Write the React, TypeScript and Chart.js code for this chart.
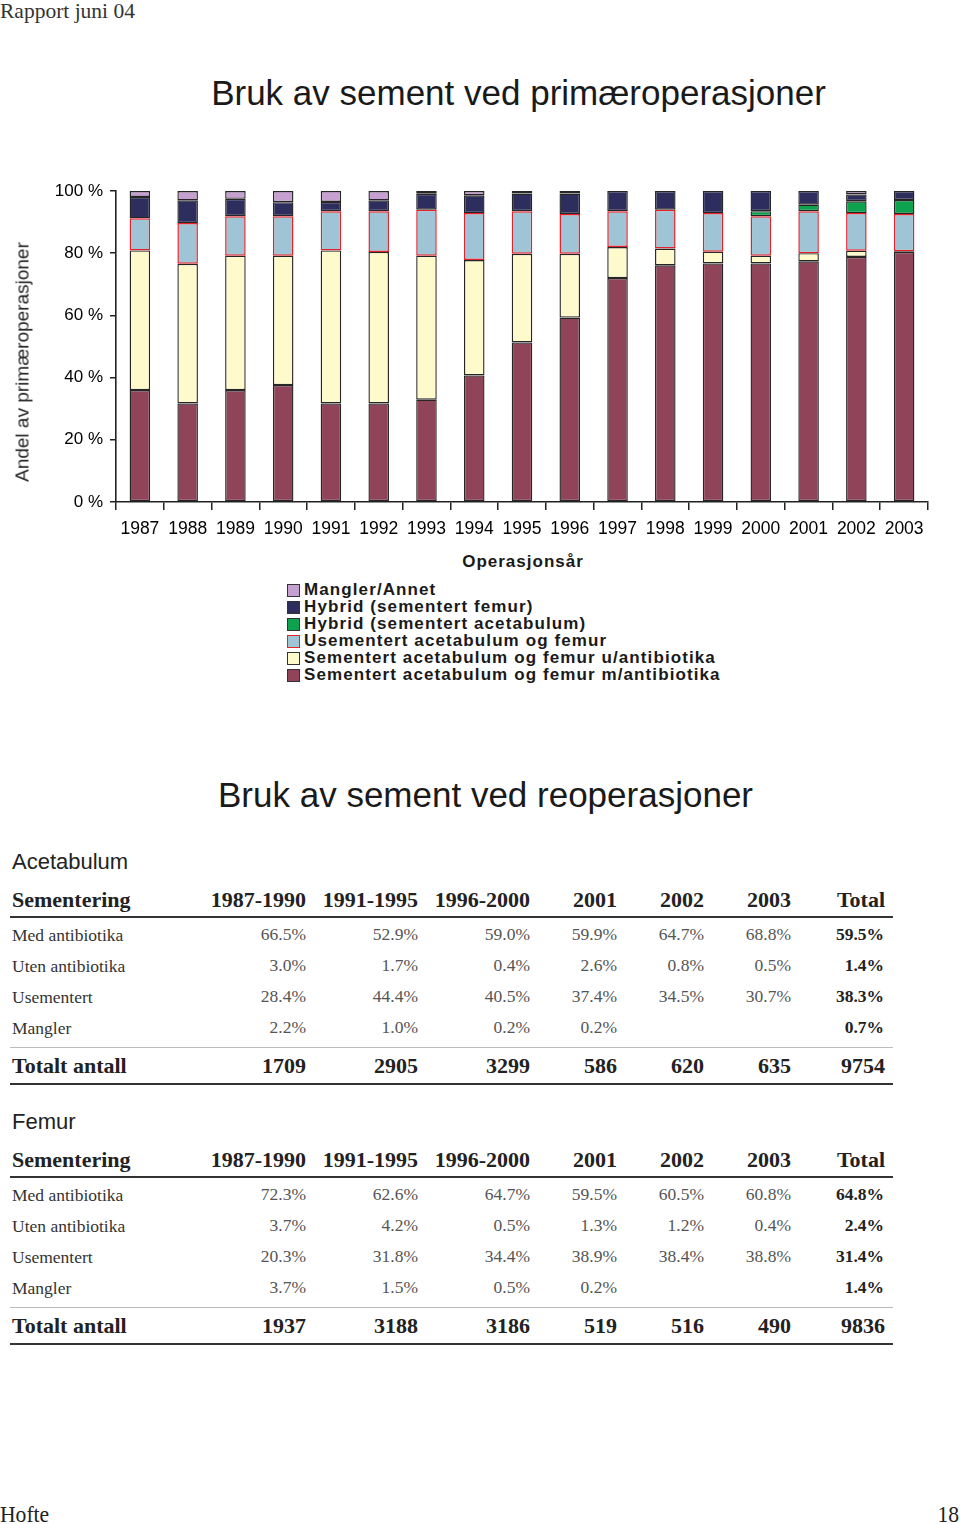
import React, { useEffect, useRef } from 'react';
import { Chart, registerables } from 'chart.js';

Chart.register(...registerables);

// ---------- Chart data ----------
const years = ['1987', '1988', '1989', '1990', '1991', '1992', '1993', '1994', '1995', '1996', '1997', '1998', '1999', '2000', '2001', '2002', '2003'];
const medAntibiotika = [36.0, 31.7, 36.0, 37.6, 31.7, 31.7, 32.9, 40.7, 51.3, 59.3, 72.0, 76.1, 76.7, 76.7, 77.4, 78.8, 80.4];
const utenAntibiotika = [44.9, 44.9, 43.2, 41.6, 49.2, 48.7, 46.3, 37.1, 28.5, 20.5, 10.0, 5.4, 3.8, 2.5, 2.6, 2.0, 0.2];
const usementert = [10.3, 13.1, 12.7, 12.7, 12.6, 13.1, 14.8, 15.1, 13.7, 12.8, 11.5, 12.5, 12.4, 12.7, 13.5, 12.1, 12.0];
const hybridAcetabulum = [0, 0, 0, 0, 0, 0, 0, 0, 0, 0, 0, 0, 0, 1.6, 2.1, 3.8, 4.5];
const hybridFemur = [6.9, 7.3, 5.6, 4.5, 3.0, 3.5, 5.1, 5.7, 5.7, 6.6, 6.5, 6.0, 7.1, 6.5, 4.4, 2.2, 2.9];
const manglerAnnet = [1.9, 3.0, 2.5, 3.6, 3.5, 3.0, 0.9, 1.4, 0.8, 0.8, 0, 0, 0, 0, 0, 1.1, 0];

const seriesNames = [
  'Sementert acetabulum og femur m/antibiotika',
  'Sementert acetabulum og femur u/antibiotika',
  'Usementert acetabulum og femur',
  'Hybrid (sementert acetabulum)',
  'Hybrid (sementert femur)',
  'Mangler/Annet',
];
const seriesColors = ['#8F4459', '#FFFACC', '#9EC4D6', '#0DA24E', '#2D2E5E', '#C7A0D2'];
const seriesBorders = ['#262626', '#262626', '#E3222B', '#262626', '#262626', '#262626'];

// ---------- Table data ----------
const periods = ['1987-1990', '1991-1995', '1996-2000', '2001', '2002', '2003', 'Total'];
const rowLabels = ['Med antibiotika', 'Uten antibiotika', 'Usementert', 'Mangler'];

const acetMed = ['66.5%', '52.9%', '59.0%', '59.9%', '64.7%', '68.8%', '59.5%'];
const acetUten = ['3.0%', '1.7%', '0.4%', '2.6%', '0.8%', '0.5%', '1.4%'];
const acetUsem = ['28.4%', '44.4%', '40.5%', '37.4%', '34.5%', '30.7%', '38.3%'];
const acetMangler = ['2.2%', '1.0%', '0.2%', '0.2%', '', '', '0.7%'];
const acetTotal = ['1709', '2905', '3299', '586', '620', '635', '9754'];

const femMed = ['72.3%', '62.6%', '64.7%', '59.5%', '60.5%', '60.8%', '64.8%'];
const femUten = ['3.7%', '4.2%', '0.5%', '1.3%', '1.2%', '0.4%', '2.4%'];
const femUsem = ['20.3%', '31.8%', '34.4%', '38.9%', '38.4%', '38.8%', '31.4%'];
const femMangler = ['3.7%', '1.5%', '0.5%', '0.2%', '', '', '1.4%'];
const femTotal = ['1937', '3188', '3186', '519', '516', '490', '9836'];

const colRight = [306, 418, 530, 617, 704, 791, 885];

const SANS = '"Liberation Sans", Arial, Helvetica, sans-serif';
const SERIF = '"Liberation Serif", "Times New Roman", serif';

function Txt(props: { x: number; cy: number; size: number; align?: 'left' | 'right' | 'center'; family?: string; weight?: string | number; color?: string; spacing?: number; children: React.ReactNode }) {
  const { x, cy, size, align = 'left', family = SERIF, weight = 'normal', color = '#222', spacing = 0, children } = props;
  const lh = Math.round(size * 1.2);
  const style: React.CSSProperties = {
    position: 'absolute',
    top: cy - lh / 2,
    fontSize: size,
    lineHeight: lh + 'px',
    fontFamily: family,
    fontWeight: weight as any,
    color,
    whiteSpace: 'nowrap',
    letterSpacing: spacing ? spacing + 'px' : undefined,
  };
  if (align === 'left') style.left = x;
  else if (align === 'right') style.right = 960 - x;
  else { style.left = x; style.transform = 'translateX(-50%)'; }
  return <div style={style}>{children}</div>;
}

function HLine(props: { y: number; h: number; color: string }) {
  return <div style={{ position: 'absolute', left: 10, width: 883, top: props.y - props.h / 2, height: props.h, background: props.color }} />;
}

function CementTable(props: { cy: number; title: string; rows: string[][]; totals: string[] }) {
  const T = props.cy;
  return (
    <>
      <Txt x={12} cy={T} size={22} family={SANS}>{props.title}</Txt>
      <Txt x={12} cy={T + 38} size={22} weight="bold">Sementering</Txt>
      {periods.map((p, i) => (
        <Txt key={p} x={colRight[i]} cy={T + 38} size={22} weight="bold" align="right">{p}</Txt>
      ))}
      <HLine y={T + 55} h={2.5} color="#333" />
      {props.rows.map((row, r) => (
        <React.Fragment key={r}>
          <Txt x={12} cy={T + 73 + r * 31} size={17.5} color="#333">{rowLabels[r]}</Txt>
          {row.map((v, i) => (
            <Txt key={i} x={i === 6 ? colRight[i] - 1 : colRight[i]} cy={T + 72 + r * 31} size={17.5} color={i === 6 ? '#222' : '#555'} weight={i === 6 ? 'bold' : 'normal'} align="right">{v}</Txt>
          ))}
        </React.Fragment>
      ))}
      <HLine y={T + 185} h={1} color="#bbb" />
      <Txt x={12} cy={T + 204} size={22} weight="bold">Totalt antall</Txt>
      {props.totals.map((v, i) => (
        <Txt key={i} x={colRight[i]} cy={T + 204} size={22} weight="bold" align="right">{v}</Txt>
      ))}
      <HLine y={T + 222} h={2.5} color="#333" />
    </>
  );
}

function LegendItem(props: { cy: number; color: string; border: string; label: string }) {
  return (
    <>
      <div style={{ position: 'absolute', left: 287, top: props.cy - 6, width: 11, height: 11, background: props.color, border: '1px solid ' + props.border }} />
      <Txt x={304} cy={props.cy} size={17} family={SANS} weight="bold" color="#1a1a1a" spacing={1.1}>{props.label}</Txt>
    </>
  );
}

export default function App() {
  const canvasRef = useRef<HTMLCanvasElement | null>(null);

  useEffect(() => {
    document.body.style.margin = '0';
    const canvas = canvasRef.current;
    if (!canvas) return;
    const series = [medAntibiotika, utenAntibiotika, usementert, hybridAcetabulum, hybridFemur, manglerAnnet];
    const chart = new Chart(canvas, {
      type: 'bar',
      data: {
        labels: years,
        datasets: series.map((vals, i) => ({
          label: seriesNames[i],
          data: vals.map((v) => (v === 0 ? null : v)),
          backgroundColor: seriesColors[i],
          borderColor: seriesBorders[i],
          borderWidth: i === 2 ? 1.5 : 1.4,
          borderSkipped: false,
          barPercentage: 0.43,
          categoryPercentage: 1,
        })),
      },
      options: {
        animation: false,
        responsive: false,
        maintainAspectRatio: false,
        layout: { padding: { left: 40, right: 32, top: 31, bottom: 0 } },
        plugins: { legend: { display: false }, tooltip: { enabled: false }, title: { display: false } },
        scales: {
          x: {
            stacked: true,
            grid: { drawOnChartArea: false, drawTicks: true, tickLength: 8, color: '#222', lineWidth: 1.5 },
            border: { display: true, color: '#222', width: 1.6 },
            ticks: { color: '#000', padding: 9, font: { family: SANS, size: 17.5 }, maxRotation: 0, autoSkip: false },
            afterFit: (scale: any) => { scale.height = 43; },
          } as any,
          y: {
            stacked: true,
            min: 0,
            max: 100,
            grid: { drawOnChartArea: false, drawTicks: true, tickLength: 6, color: '#222', lineWidth: 1.5 },
            border: { display: true, color: '#222', width: 1.6 },
            ticks: { stepSize: 20, color: '#000', padding: 7, font: { family: SANS, size: 17 }, callback: (v: any) => v + ' %' },
            afterFit: (scale: any) => { scale.width = 76; },
          } as any,
        },
      },
    });
    return () => chart.destroy();
  }, []);

  const legendOrder = [5, 4, 3, 2, 1, 0];

  return (
    <div style={{ position: 'relative', width: 960, height: 1524, background: '#fff', overflow: 'hidden' }}>
      <Txt x={0} cy={11} size={21.5} color="#333">Rapport juni 04</Txt>
      <Txt x={518.5} cy={93} size={35} family={SANS} align="center" color="#1a1a1a">Bruk av sement ved primæroperasjoner</Txt>
      <canvas ref={canvasRef} width={960} height={385} style={{ position: 'absolute', left: 0, top: 160, width: 960, height: 385 }} />
      <div style={{ position: 'absolute', left: 22, top: 362, transform: 'translate(-50%, -50%) rotate(-90deg)', fontFamily: SANS, fontSize: 19, lineHeight: '23px', color: '#222', whiteSpace: 'nowrap' }}>Andel av primæroperasjoner</div>
      <Txt x={523} cy={562} size={17} family={SANS} weight="bold" align="center" color="#1a1a1a" spacing={1}>Operasjonsår</Txt>
      {legendOrder.map((si, k) => (
        <LegendItem key={si} cy={590 + k * 17} color={seriesColors[si]} border={si === 2 ? '#E3222B' : '#333'} label={seriesNames[si]} />
      ))}
      <Txt x={485.5} cy={795} size={35} family={SANS} align="center" color="#1a1a1a">Bruk av sement ved reoperasjoner</Txt>
      <CementTable cy={862} title="Acetabulum" rows={[acetMed, acetUten, acetUsem, acetMangler]} totals={acetTotal} />
      <CementTable cy={1122} title="Femur" rows={[femMed, femUten, femUsem, femMangler]} totals={femTotal} />
      <div style={{ position: 'absolute', left: 0, top: 1500, fontFamily: SERIF, fontSize: 24, lineHeight: '28px', color: '#222', transform: 'scaleX(0.9)', transformOrigin: 'left' }}>Hofte</div>
      <div style={{ position: 'absolute', right: 1, top: 1500, fontFamily: SERIF, fontSize: 24, lineHeight: '28px', color: '#222', transform: 'scaleX(0.9)', transformOrigin: 'right' }}>18</div>
    </div>
  );
}
